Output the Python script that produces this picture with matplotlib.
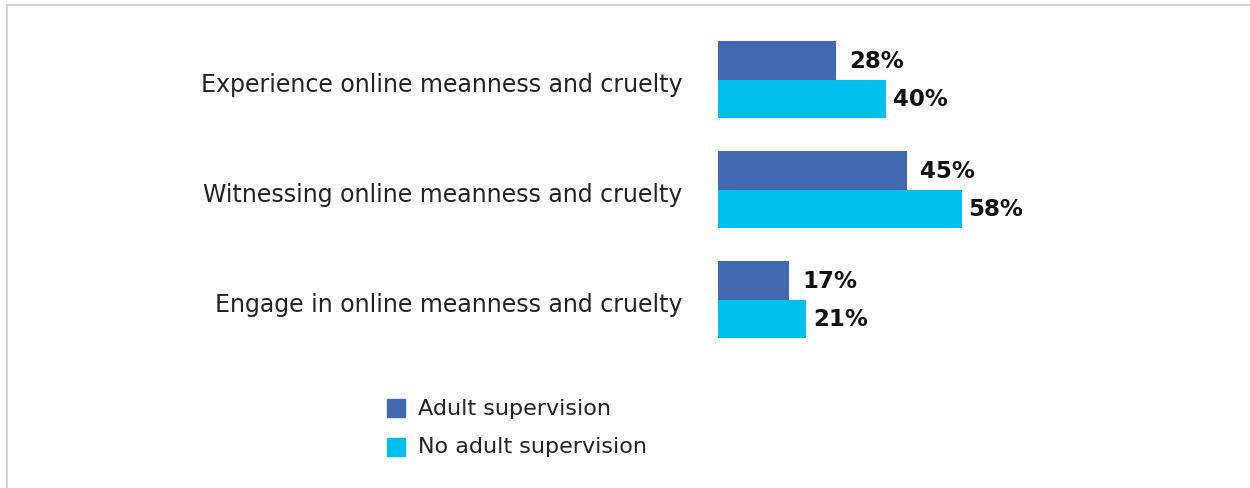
import matplotlib
matplotlib.use("Agg")
import matplotlib.pyplot as plt
from matplotlib.lines import Line2D
from matplotlib.patches import Rectangle
import numpy as np

categories = ["Experience online meanness and cruelty",
              "Witnessing online meanness and cruelty",
              "Engage in online meanness and cruelty"]
adult = [28, 45, 17]
no_adult = [40, 58, 21]
series_names = ["Adult supervision", "No adult supervision"]
colors = ["#4169B0", "#00BEEE"]

W, H = 1250, 489
fig = plt.figure(figsize=(W / 100, H / 100), dpi=100)

def px(x0, y0, x1, y1):
    return [x0 / W, 1 - y1 / H, (x1 - x0) / W, (y1 - y0) / H]

ax = fig.add_axes(px(718, 25.5, 1138, 355.5))
y = np.arange(len(categories))
h = 0.35
ax.barh(y - h / 2, adult, height=h, color=colors[0])
ax.barh(y + h / 2, no_adult, height=h, color=colors[1])
ax.set_xlim(0, 100)
ax.set_ylim(2.5, -0.5)
for s in ax.spines.values():
    s.set_visible(False)
ax.set_xticks([])
ax.set_yticks([])

for i, cat in enumerate(categories):
    ax.annotate(cat, (0, y[i]), xytext=(-25.5, -3), textcoords="offset points",
                va="center", ha="right", fontsize=17, color="#222222")
    ax.annotate(f"{adult[i]}%", (adult[i], y[i] - h / 2), xytext=(9.5, 0),
                textcoords="offset points", va="center", ha="left",
                fontsize=16.5, fontweight="bold", color="#111111")
    ax.annotate(f"{no_adult[i]}%", (no_adult[i], y[i] + h / 2), xytext=(5, 0),
                textcoords="offset points", va="center", ha="left",
                fontsize=16.5, fontweight="bold", color="#111111")

# legend
for j, (name, c) in enumerate(zip(series_names, colors)):
    yc = 409 + j * 38.5
    fig.patches.append(Rectangle((387 / W, 1 - (yc + 9) / H), 18 / W, 18 / H,
                                 transform=fig.transFigure, color=c))
    fig.text(418 / W, 1 - yc / H, name, fontsize=16, va="center", ha="left",
             color="#222222")

# border lines
fig.add_artist(Line2D([7 / W, 7 / W], [0, 1 - 6 / H], transform=fig.transFigure,
                      color="#d0d0d0", lw=1.2))
fig.add_artist(Line2D([7 / W, 1], [1 - 6 / H, 1 - 6 / H], transform=fig.transFigure,
                      color="#d0d0d0", lw=1.2))

fig.savefig("out.png", dpi=100)
